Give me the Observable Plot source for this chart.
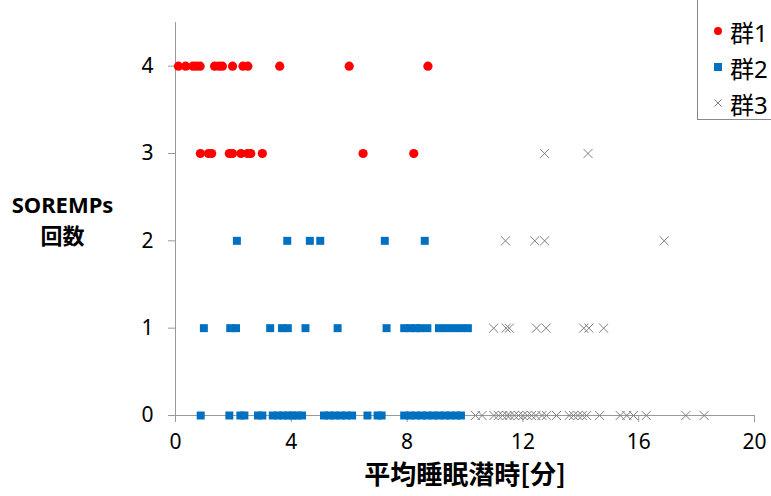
<!DOCTYPE html>
<html>
<head>
<meta charset="utf-8">
<script src="https://cdn.jsdelivr.net/npm/d3@7"></script>
<script src="https://cdn.jsdelivr.net/npm/@observablehq/plot@0.6"></script>
<style>
  html, body { margin: 0; padding: 0; background: #fff; }
  #wrap { position: relative; width: 771px; height: 496px; overflow: hidden; }
  #legend {
    position: absolute; left: 697px; top: -1px; width: 90px; height: 121px;
    border: 1px solid #888; background: #fff; box-sizing: border-box;
    font-family: "Noto Sans", "Noto Sans CJK JP", sans-serif; font-size: 24px; color: #000;
  }
  #legend .row { position: absolute; left: 0; height: 30px; display: flex; align-items: center; }
  #legend svg { margin-left: 14px; margin-right: 6px; }
</style>
</head>
<body>
<div id="wrap"><div id="chart"></div><div id="legend"></div></div>
<script>
// ---- data ----
const groups = ["群1", "群2", "群3"];
const yTicks = [0, 1, 2, 3, 4];
const xTicks = [0, 4, 8, 12, 16, 20];

const g1_y4 = [0.1, 0.35, 0.6, 0.72, 0.85, 1.35, 1.5, 1.62, 1.97, 2.33, 2.5, 3.6, 6.0, 8.72];
const g1_y3 = [0.86, 1.14, 1.25, 1.86, 1.97, 2.26, 2.49, 2.6, 3.0, 6.48, 8.23];

const g2_y2 = [2.12, 3.86, 4.64, 5.0, 7.23, 8.61];
const g2_y1 = [0.98, 1.89, 2.09, 3.27, 3.68, 3.88, 4.49, 5.6, 7.29, 7.9, 8.1, 8.3, 8.45, 8.7, 9.1, 9.35, 9.6, 9.85, 10.1];
const g2_y0 = [0.87, 1.86, 2.24, 2.38, 2.85, 3.0, 3.36, 3.55, 3.72, 3.9, 4.05, 4.2, 4.37, 5.13, 5.3, 5.5, 5.7, 5.9, 6.1, 6.63, 6.98, 7.12, 7.9, 8.1, 8.3, 8.5, 8.7, 8.9, 9.1, 9.3, 9.5, 9.7, 9.86];

const g3_y3 = [12.75, 14.25];
const g3_y2 = [11.4, 12.41, 12.75, 16.88];
const g3_y1 = [10.99, 11.42, 11.53, 12.47, 12.8, 14.1, 14.28, 14.79];
const g3_y0 = [10.36, 10.59, 11.0, 11.15, 11.3, 11.45, 11.55, 11.7, 11.85, 12.0, 12.15, 12.3, 12.45, 12.66, 12.81, 13.16, 13.6, 13.75, 13.9, 14.05, 14.2, 14.65, 15.36, 15.59, 15.82, 16.26, 17.63, 18.26];

const xLabel = "平均睡眠潜時[分]";
const yLabel = "SOREMPs\n回数";

// ---- build tables ----
const rows = (arr, y) => arr.map(x => ({x, y}));
const g1 = [...rows(g1_y4, 4), ...rows(g1_y3, 3)];
const g2 = [...rows(g2_y2, 2), ...rows(g2_y1, 1), ...rows(g2_y0, 0)];
const g3 = [...rows(g3_y3, 3), ...rows(g3_y2, 2), ...rows(g3_y1, 1), ...rows(g3_y0, 0)];

const colors = {red: "#ff0000", blue: "#0070c0", gray: "#7f7f7f", axis: "#999999"};

const chart = Plot.plot({
  width: 771,
  height: 496,
  marginLeft: 175,
  marginRight: 17,
  marginTop: 22,
  marginBottom: 81,
  style: {fontFamily: '"Noto Sans", "Noto Sans CJK JP", sans-serif', background: "#fff", color: "#000"},
  x: {domain: [0, 20]},
  y: {domain: [0, 4.5]},
  marks: [
    Plot.ruleY([0], {stroke: colors.axis, strokeWidth: 1}),
    Plot.ruleX([0], {stroke: colors.axis, strokeWidth: 1}),
    Plot.axisX({ticks: xTicks, tickFormat: "d", tickSize: 7, tickPadding: 12, fontSize: 21, stroke: colors.axis, fill: "#000", label: null}),
    Plot.axisY({ticks: yTicks, tickFormat: "d", tickSize: 7, tickPadding: 15, fontSize: 21, stroke: colors.axis, fill: "#000", label: null}),
    Plot.dot(g1, {x: "x", y: "y", symbol: "circle", r: 4.6, fill: colors.red, stroke: "none"}),
    Plot.dot(g2, {x: "x", y: "y", symbol: "square", r: 4.5, fill: colors.blue, stroke: "none"}),
    Plot.dot(g3, {x: "x", y: "y", symbol: "times", r: 4.2, stroke: colors.gray, strokeWidth: 1}),
    Plot.text([xLabel], {frameAnchor: "bottom", dy: 68, fontSize: 26, fontWeight: "bold", fontFamily: '"Noto Sans CJK JP", sans-serif'}),
    Plot.text([yLabel], {frameAnchor: "left", dx: -113, textAnchor: "middle", fontSize: 22, fontWeight: "bold", lineHeight: 1.4})
  ]
});
document.getElementById("chart").appendChild(chart);

// ---- legend ----
const legend = document.getElementById("legend");
const markers = [
  '<svg width="12" height="12"><circle cx="6" cy="6" r="4" fill="' + colors.red + '"/></svg>',
  '<svg width="12" height="12"><rect x="2" y="2" width="8" height="8" fill="' + colors.blue + '"/></svg>',
  '<svg width="12" height="12"><path d="M2.5,2.5L9.5,9.5M9.5,2.5L2.5,9.5" stroke="' + colors.gray + '" stroke-width="1"/></svg>'
];
groups.forEach((g, i) => {
  const r = document.createElement("div");
  r.className = "row";
  r.style.top = (16 + i * 36) + "px";
  r.innerHTML = markers[i] + "<span>" + g + "</span>";
  legend.appendChild(r);
});
</script>
</body>
</html>
